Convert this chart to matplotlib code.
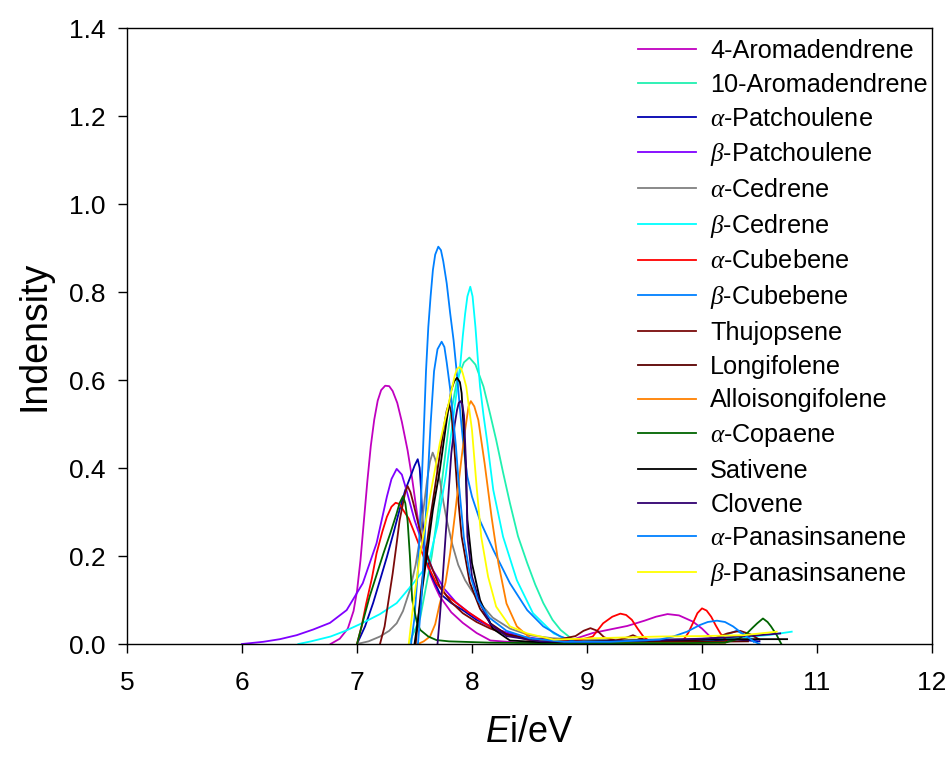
import numpy as np
import matplotlib
matplotlib.use('Agg')
import matplotlib.pyplot as plt

plt.rcParams['font.family'] = ['Liberation Sans', 'DejaVu Sans']
plt.rcParams['mathtext.fontset'] = 'custom'
plt.rcParams['mathtext.rm'] = 'Liberation Sans'
plt.rcParams['mathtext.it'] = 'Liberation Serif:italic'
plt.rcParams['mathtext.sf'] = 'Liberation Sans:italic'

# values (Ei in eV, intensity)
aro4_x = [6.77, 6.85, 6.92, 6.97, 7.0, 7.03, 7.06, 7.09, 7.12, 7.15, 7.18, 7.21, 7.245, 7.28, 7.31, 7.35,
          7.39, 7.44, 7.48, 7.52, 7.56, 7.6, 7.64, 7.68, 7.72, 7.82, 7.92, 8.04, 8.16, 8.4, 8.7, 8.9,
          9.05, 9.2, 9.35, 9.5, 9.6, 9.7, 9.8, 9.92, 10.0, 10.07, 10.15]
aro4_y = [0.0, 0.012, 0.035, 0.075, 0.12, 0.19, 0.28, 0.37, 0.45, 0.51, 0.553, 0.577, 0.587, 0.586, 0.575, 0.548,
          0.505, 0.44, 0.375, 0.3, 0.235, 0.19, 0.155, 0.13, 0.108, 0.072, 0.048, 0.025, 0.008, 0.003, 0.004, 0.012,
          0.025, 0.033, 0.041, 0.053, 0.062, 0.068, 0.065, 0.051, 0.035, 0.017, 0.003]

aro10_x = [7.45, 7.55, 7.65, 7.72, 7.8, 7.87, 7.93, 7.977, 8.03, 8.1, 8.16, 8.21, 8.27, 8.33, 8.4, 8.48,
           8.55, 8.62, 8.7, 8.77, 8.88, 9.0]
aro10_y = [0.0, 0.06, 0.2, 0.33, 0.5, 0.6, 0.64, 0.651, 0.635, 0.585, 0.52, 0.464, 0.39, 0.32, 0.245, 0.184,
           0.135, 0.093, 0.055, 0.032, 0.009, 0.0]

apat_x = [7.0, 7.07, 7.14, 7.2, 7.26, 7.32, 7.37, 7.42, 7.476, 7.5, 7.528, 7.545, 7.557, 7.57, 7.59, 7.64,
          7.72, 7.82, 7.92, 8.04, 8.16, 8.3, 8.48, 8.7, 9.0, 9.5, 10.0, 10.3, 10.5]
apat_y = [0.0, 0.04, 0.093, 0.145, 0.198, 0.255, 0.305, 0.35, 0.388, 0.405, 0.42, 0.4, 0.35, 0.282, 0.214, 0.16,
          0.115, 0.093, 0.077, 0.055, 0.04, 0.025, 0.013, 0.007, 0.005, 0.006, 0.008, 0.01, 0.006]

bpat_x = [6.0, 6.185, 6.33, 6.475, 6.62, 6.765, 6.91, 7.05, 7.17, 7.26, 7.3, 7.345, 7.39, 7.43, 7.5, 7.58,
          7.66, 7.76, 7.86, 7.98, 8.1, 8.25, 8.45, 8.7, 9.0]
bpat_y = [0.0, 0.005, 0.011, 0.02, 0.033, 0.048, 0.077, 0.138, 0.229, 0.335, 0.375, 0.398, 0.385, 0.35, 0.282, 0.221,
          0.168, 0.125, 0.095, 0.07, 0.048, 0.03, 0.016, 0.008, 0.004]

aced_x = [7.0, 7.1, 7.2, 7.28, 7.345, 7.4, 7.46, 7.51, 7.55, 7.58, 7.61, 7.635, 7.658, 7.68, 7.72, 7.75,
          7.78, 7.83, 7.88, 7.94, 8.0, 8.08, 8.18, 8.33, 8.5, 8.7, 9.0, 9.5, 10.0, 10.4]
aced_y = [0.0, 0.006, 0.017, 0.03, 0.047, 0.075, 0.123, 0.18, 0.244, 0.31, 0.373, 0.415, 0.435, 0.42, 0.373, 0.325,
          0.282, 0.225, 0.18, 0.145, 0.12, 0.09, 0.06, 0.035, 0.02, 0.013, 0.01, 0.01, 0.012, 0.015]

bced_x = [6.49, 6.6, 6.77, 6.9, 7.05, 7.2, 7.345, 7.49, 7.57, 7.635, 7.7, 7.77, 7.84, 7.87, 7.9, 7.92,
          7.94, 7.96, 7.985, 8.005, 8.03, 8.05, 8.07, 8.1, 8.13, 8.185, 8.27, 8.39, 8.53, 8.71, 8.88, 9.2,
          9.6, 10.0, 10.4, 10.6, 10.78]
bced_y = [0.0, 0.006, 0.017, 0.03, 0.048, 0.068, 0.093, 0.138, 0.165, 0.198, 0.27, 0.38, 0.52, 0.58, 0.64, 0.7,
          0.75, 0.79, 0.812, 0.79, 0.72, 0.65, 0.585, 0.52, 0.464, 0.35, 0.244, 0.145, 0.07, 0.024, 0.005, 0.003,
          0.006, 0.01, 0.016, 0.021, 0.028]

acub_x = [7.0, 7.04, 7.08, 7.13, 7.17, 7.22, 7.26, 7.3, 7.336, 7.37, 7.4, 7.45, 7.49, 7.58, 7.69, 7.78,
          7.87, 7.97, 8.07, 8.185, 8.3, 8.48, 8.77, 8.95, 9.05, 9.14, 9.22, 9.29, 9.34, 9.39, 9.44, 9.49,
          9.55, 9.7, 9.84, 9.88, 9.92, 9.96, 10.0, 10.04, 10.08, 10.12, 10.16, 10.22]
acub_y = [0.0, 0.04, 0.092, 0.15, 0.206, 0.255, 0.289, 0.312, 0.321, 0.318, 0.305, 0.285, 0.259, 0.198, 0.138, 0.11,
          0.092, 0.072, 0.055, 0.035, 0.022, 0.01, 0.007, 0.01, 0.017, 0.047, 0.062, 0.069, 0.066, 0.055, 0.035, 0.017,
          0.005, 0.004, 0.01, 0.025, 0.047, 0.07, 0.081, 0.076, 0.062, 0.042, 0.024, 0.005]

bcub_x = [7.47, 7.5, 7.53, 7.56, 7.58, 7.6, 7.62, 7.64, 7.66, 7.68, 7.707, 7.73, 7.75, 7.78, 7.81, 7.84,
          7.87, 7.9, 7.93, 7.96, 8.0, 8.07, 8.185, 8.33, 8.48, 8.62, 8.77, 8.9, 9.2, 9.6, 9.9, 10.1,
          10.22, 10.3, 10.38, 10.45]
bcub_y = [0.0, 0.06, 0.17, 0.35, 0.48, 0.62, 0.72, 0.79, 0.85, 0.885, 0.903, 0.895, 0.87, 0.82, 0.752, 0.69,
          0.61, 0.52, 0.44, 0.38, 0.335, 0.28, 0.214, 0.138, 0.077, 0.04, 0.017, 0.005, 0.003, 0.004, 0.006, 0.01,
          0.022, 0.03, 0.02, 0.005]

thuj_x = [7.2, 7.24, 7.27, 7.31, 7.345, 7.37, 7.4, 7.42, 7.44, 7.465, 7.49, 7.56, 7.635, 7.72, 7.82, 7.92,
          8.04, 8.16, 8.3, 8.5, 8.75, 8.9, 8.97, 9.03, 9.09, 9.15, 9.25, 9.35, 9.4, 9.45, 9.55, 9.8,
          10.1, 10.22, 10.33, 10.42, 10.5]
thuj_y = [0.0, 0.04, 0.092, 0.16, 0.229, 0.28, 0.32, 0.345, 0.359, 0.345, 0.32, 0.244, 0.183, 0.13, 0.095, 0.07,
          0.05, 0.035, 0.022, 0.012, 0.01, 0.018, 0.03, 0.036, 0.03, 0.015, 0.008, 0.015, 0.02, 0.014, 0.006, 0.006,
          0.012, 0.024, 0.03, 0.022, 0.01]

long_x = [7.51, 7.56, 7.6, 7.635, 7.68, 7.72, 7.76, 7.78, 7.8, 7.82, 7.84, 7.87, 7.91, 7.98, 8.07, 8.16,
          8.3, 8.5, 8.8, 9.2, 9.6, 10.0, 10.4]
long_y = [0.0, 0.13, 0.21, 0.282, 0.36, 0.43, 0.5, 0.53, 0.547, 0.525, 0.47, 0.358, 0.244, 0.14, 0.08, 0.047,
          0.022, 0.01, 0.005, 0.004, 0.004, 0.005, 0.006]

allo_x = [7.53, 7.58, 7.635, 7.68, 7.72, 7.77, 7.81, 7.85, 7.88, 7.91, 7.94, 7.97, 7.99, 8.02, 8.055, 8.11,
          8.17, 8.23, 8.3, 8.39, 8.53, 8.8, 9.2, 9.8, 10.2]
allo_y = [0.0, 0.006, 0.017, 0.045, 0.092, 0.14, 0.206, 0.29, 0.358, 0.425, 0.486, 0.54, 0.552, 0.54, 0.509, 0.41,
          0.289, 0.183, 0.092, 0.04, 0.008, 0.003, 0.002, 0.002, 0.003]

acop_x = [7.0, 7.05, 7.11, 7.17, 7.23, 7.29, 7.345, 7.37, 7.4, 7.42, 7.44, 7.46, 7.48, 7.52, 7.55, 7.62,
          7.69, 7.8, 7.92, 8.16, 8.6, 9.2, 9.8, 10.2, 10.32, 10.39, 10.44, 10.48, 10.53, 10.57, 10.6,
          10.65, 10.69]
acop_y = [0.0, 0.05, 0.108, 0.157, 0.206, 0.252, 0.297, 0.32, 0.336, 0.32, 0.28, 0.2, 0.1, 0.05, 0.032, 0.017,
          0.009, 0.006, 0.005, 0.003, 0.002, 0.002, 0.002, 0.003, 0.012, 0.024, 0.037, 0.047, 0.058, 0.05, 0.04,
          0.02, 0.0]

sati_x = [7.5, 7.55, 7.61, 7.66, 7.72, 7.78, 7.82, 7.845, 7.87, 7.895, 7.91, 7.925, 7.94, 7.96, 8.0, 8.07,
          8.18, 8.33, 8.6, 9.0, 9.5, 10.0, 10.4, 10.74]
sati_y = [0.0, 0.092, 0.206, 0.305, 0.395, 0.509, 0.577, 0.597, 0.605, 0.595, 0.57, 0.5, 0.433, 0.282, 0.183, 0.1,
          0.035, 0.008, 0.004, 0.006, 0.008, 0.01, 0.011, 0.011]

clov_x = [7.7, 7.72, 7.74, 7.78, 7.82, 7.85, 7.87, 7.885, 7.9, 7.915, 7.93, 7.94, 7.95, 7.96, 8.0, 8.07,
          8.16, 8.3, 8.6, 9.0, 9.5, 10.0, 10.4, 10.68]
clov_y = [0.0, 0.06, 0.13, 0.282, 0.433, 0.5, 0.532, 0.548, 0.552, 0.545, 0.52, 0.46, 0.395, 0.244, 0.153, 0.092,
          0.045, 0.018, 0.006, 0.005, 0.008, 0.012, 0.018, 0.024]

apan_x = [7.53, 7.56, 7.6, 7.64, 7.67, 7.7, 7.736, 7.76, 7.78, 7.81, 7.83, 7.86, 7.88, 7.93, 7.98, 8.05,
          8.15, 8.3, 8.5, 8.8, 9.2, 9.63, 9.75, 9.87, 9.98, 10.05, 10.13, 10.2, 10.27, 10.33, 10.39,
          10.45, 10.5]
apan_y = [0.0, 0.1, 0.3, 0.5, 0.62, 0.67, 0.687, 0.675, 0.64, 0.58, 0.53, 0.45, 0.38, 0.24, 0.16, 0.1,
          0.06, 0.03, 0.013, 0.005, 0.005, 0.01, 0.017, 0.028, 0.043, 0.05, 0.053, 0.05, 0.04, 0.028, 0.017,
          0.006, 0.0]

bpan_x = [7.45, 7.49, 7.55, 7.635, 7.72, 7.81, 7.85, 7.87, 7.887, 7.905, 7.92, 7.95, 8.0, 8.04, 8.08, 8.14,
          8.21, 8.33, 8.48, 8.71, 9.05, 9.63, 10.0, 10.36, 10.65]
bpan_y = [0.0, 0.092, 0.206, 0.335, 0.456, 0.562, 0.61, 0.625, 0.629, 0.626, 0.615, 0.585, 0.486, 0.358, 0.244, 0.153,
          0.085, 0.04, 0.024, 0.01, 0.013, 0.017, 0.018, 0.02, 0.028]

names = ['4-Aromadendrene', '10-Aromadendrene', r'$\alpha$-Patchoulene', r'$\beta$-Patchoulene',
         r'$\alpha$-Cedrene', r'$\beta$-Cedrene', r'$\alpha$-Cubebene', r'$\beta$-Cubebene',
         'Thujopsene', 'Longifolene', 'Alloisongifolene', r'$\alpha$-Copaene',
         'Sativene', 'Clovene', r'$\alpha$-Panasinsanene', r'$\beta$-Panasinsanene']
colors = ['#c000c0', '#20f0b0', '#0000b0', '#8000ff', '#808080', '#00ffff', '#ff0000', '#0080ff',
          '#7a0a0a', '#5a0000', '#ff8000', '#006400', '#000000', '#300070', '#0080ff', '#ffff00']
series = [(aro4_x, aro4_y), (aro10_x, aro10_y), (apat_x, apat_y), (bpat_x, bpat_y),
          (aced_x, aced_y), (bced_x, bced_y), (acub_x, acub_y), (bcub_x, bcub_y),
          (thuj_x, thuj_y), (long_x, long_y), (allo_x, allo_y), (acop_x, acop_y),
          (sati_x, sati_y), (clov_x, clov_y), (apan_x, apan_y), (bpan_x, bpan_y)]

fig = plt.figure(figsize=(9.51, 7.62), dpi=100)
ax = fig.add_axes([127/951, 118/762, 805/951, 616/762])

for (x, y), c, n in zip(series, colors, names):
    ax.plot(x, y, color=c, lw=1.3, label=n)

ax.set_xlim(5, 12)
ax.set_ylim(0, 1.4)
ax.set_xticks(np.arange(5, 13, 1))
ax.set_yticks(np.arange(0, 1.41, 0.2))
ax.set_yticklabels(['%.1f' % v for v in np.arange(0, 1.41, 0.2)])
ax.tick_params(axis='both', direction='out', length=6.5, width=1, labelsize=19, top=False, right=False)
ax.tick_params(axis='x', pad=13)
ax.tick_params(axis='y', pad=9)
for s in ax.spines.values():
    s.set_linewidth(1)

ax.set_xlabel(r'$\mathsf{E}$i/eV', fontsize=26, labelpad=14)
ax.set_ylabel('Indensity', fontsize=27, labelpad=12)

ax.legend(loc='upper left', bbox_to_anchor=(0.6348, 0.982), frameon=False, fontsize=18.2,
          handlelength=2.3, handletextpad=0.56, labelspacing=0.385, borderpad=0, borderaxespad=0)

fig.savefig('out.png', dpi=100)
